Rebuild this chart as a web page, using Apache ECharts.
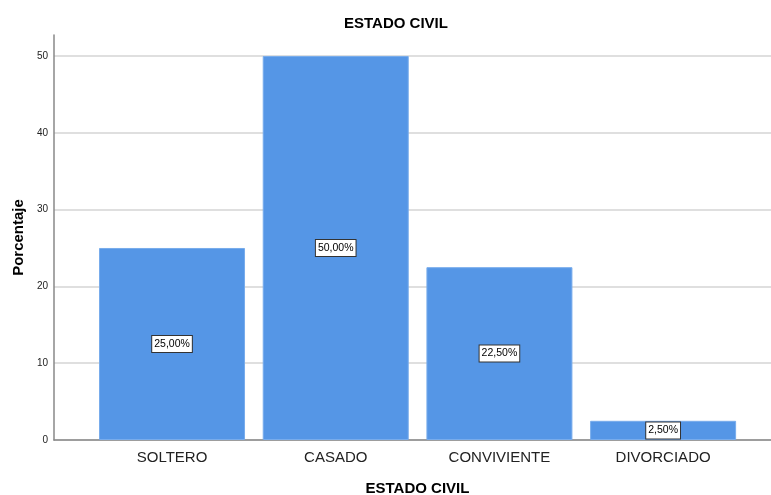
<!DOCTYPE html>
<html>
<head>
<meta charset="utf-8">
<script src="https://cdn.jsdelivr.net/npm/echarts@6/dist/echarts.min.js"></script>
<style>
  html, body { margin: 0; padding: 0; background: #fff; }
  #chart { width: 771px; height: 495px; }
</style>
</head>
<body>
<div id="chart"></div>
<script>
// datos del grafico
var categorias = ["SOLTERO", "CASADO", "CONVIVIENTE", "DIVORCIADO"];
var porcentajes = [25, 50, 22.5, 2.5];
var etiquetas = ["25,00%", "50,00%", "22,50%", "2,50%"];
var ticksY = [0, 10, 20, 30, 40, 50];

var chart = echarts.init(document.getElementById("chart"));

// cada barra en la posicion de su categoria (0..3)
var datos = porcentajes.map(function (v, i) {
  return { value: [i, v], label: { formatter: etiquetas[i] } };
});

var option = {
  animation: false,
  title: {
    text: "ESTADO CIVIL",
    left: 339,
    top: 11,
    textStyle: { fontFamily: "Liberation Sans", fontSize: 15, fontWeight: "bold", color: "#000" }
  },
  grid: { left: 54, right: 0, top: 35, bottom: 55, outerBoundsMode: "none" },
  xAxis: {
    type: "value",
    min: -0.721,
    max: 3.659,
    name: "ESTADO CIVIL",
    nameLocation: "middle",
    nameGap: 41,
    nameTextStyle: { fontFamily: "Liberation Sans", fontSize: 15, fontWeight: "bold", color: "#000", padding: [0, 0, 0, 10] },
    axisLine: { onZero: false, lineStyle: { color: "#888", width: 1.5 } },
    axisTick: { show: false },
    splitLine: { show: false },
    axisLabel: {
      customValues: [0, 1, 2, 3],
      margin: 10,
      fontFamily: "Liberation Sans",
      fontSize: 15,
      color: "#222",
      formatter: function (v) { return categorias[Math.round(v)]; }
    }
  },
  yAxis: {
    type: "value",
    min: 0,
    max: 52.73,
    interval: 10,
    name: "Porcentaje",
    nameLocation: "middle",
    nameGap: 28,
    nameTextStyle: { fontFamily: "Liberation Sans", fontSize: 15, fontWeight: "bold", color: "#000" },
    axisLine: { show: true, onZero: false, lineStyle: { color: "#888", width: 1.5 } },
    axisTick: { show: false },
    splitLine: { show: true, showMaxLine: false, lineStyle: { color: "#d4d4d4", width: 1.5 } },
    axisLabel: {
      customValues: ticksY,
      margin: 6,
      fontFamily: "Liberation Sans",
      fontSize: 10,
      color: "#222"
    }
  },
  series: [{
    type: "bar",
    data: datos,
    barWidth: 146,
    itemStyle: { color: "#5596e6", borderColor: "#78acec", borderWidth: 1 },
    label: {
      show: true,
      position: "inside",
      fontFamily: "Liberation Sans",
      fontSize: 10.5,
      color: "#000",
      backgroundColor: "#fff",
      borderColor: "#333",
      borderWidth: 1,
      padding: [3, 2, 2, 2]
    }
  }]
};

chart.setOption(option);
</script>
</body>
</html>
